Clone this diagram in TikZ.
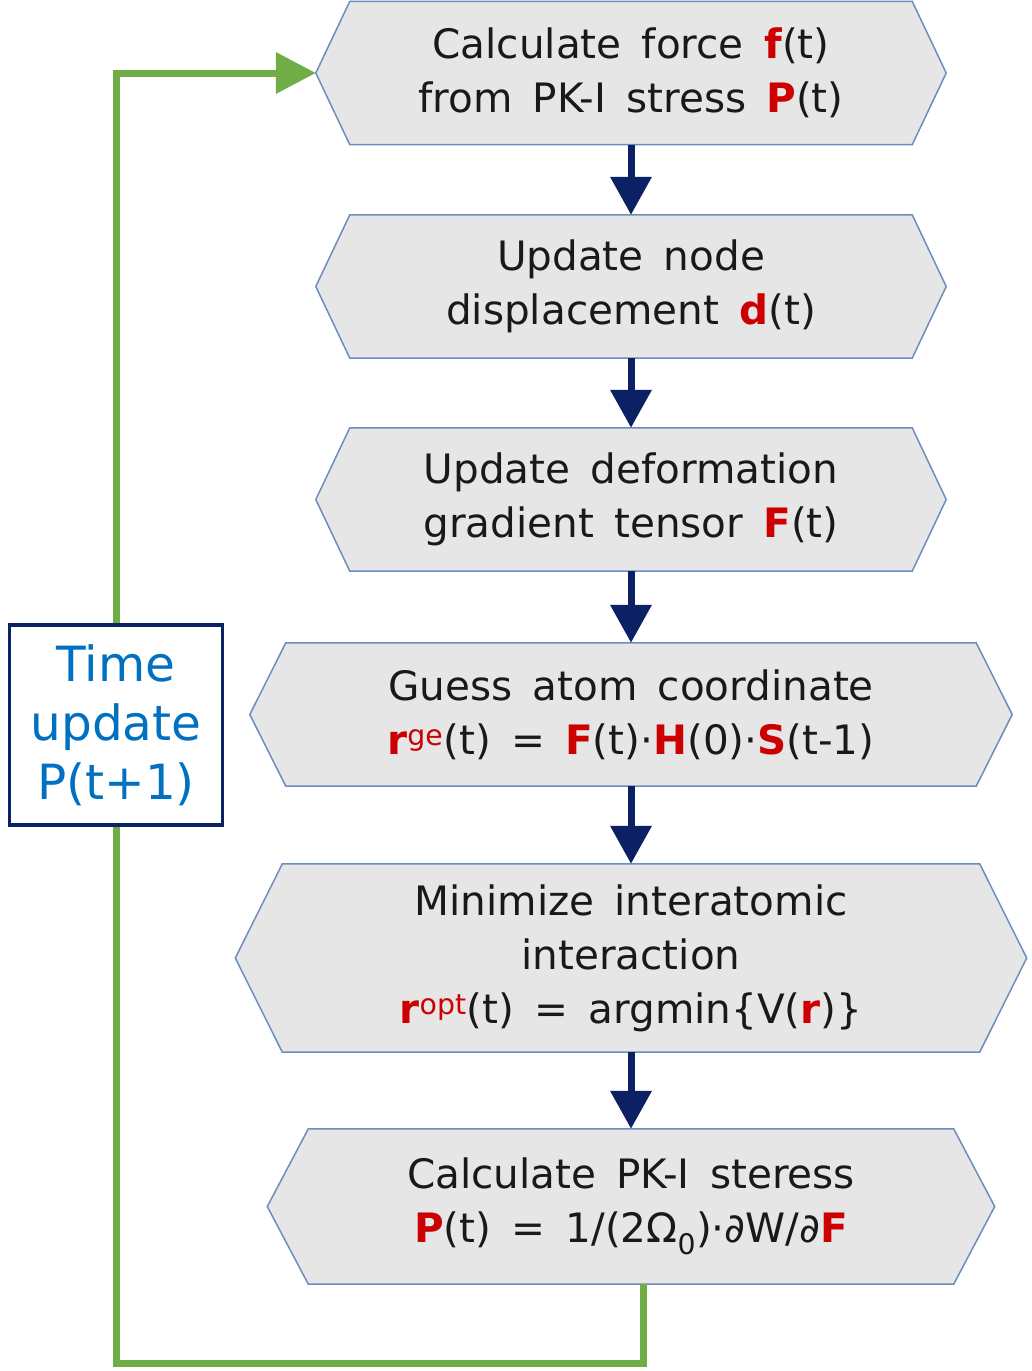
\documentclass[tikz,border=0pt]{standalone}
\usepackage{fontspec}
\setmainfont{DejaVu Sans}
\usetikzlibrary{arrows.meta,backgrounds}
\definecolor{boxfill}{HTML}{E7E6E6}
\definecolor{boxline}{HTML}{6C8EBF}
\definecolor{flownavy}{HTML}{0B2163}
\definecolor{loopgreen}{HTML}{70AD47}
\definecolor{timeblue}{HTML}{0070C0}
\definecolor{keyred}{HTML}{CC0000}
\newcommand{\vb}[1]{\textcolor{keyred}{\textbf{#1}}}
\newcommand{\flowfont}{\fontsize{40.5}{54}\selectfont\spaceskip=0.5em\relax}
\tikzset{
  flow box/.style={minimum height=143pt,inner sep=0pt,align=center,text=black!90,font=\flowfont},
  flow hex/.style={fill=boxfill,draw=boxline,line width=1.5pt},
  flow arrow/.style={flownavy,line width=7pt,-{Triangle[length=38pt,width=40pt]}},
  loop line/.style={loopgreen,line width=7pt},
  time box/.style={draw=flownavy,line width=3.5pt,fill=white,minimum width=213pt,minimum height=200pt,
    inner sep=0pt,align=center,text=timeblue,font=\fontsize{48.5}{59}\selectfont}
}

\begin{document}
\begin{tikzpicture}[x=1pt,y=-1pt]
  \useasboundingbox (0,0) rectangle (1032,1371);
  \node[flow box,minimum width=562pt] (force) at (631,73) {Calculate force \vb{f}(t)\\from PK-I stress \vb{P}(t)};
  \node[flow box,minimum width=562pt] (disp) at (631,286.5) {Update node\\displacement \vb{d}(t)};
  \node[flow box,minimum width=562pt] (grad) at (631,499.5) {Update deformation\\gradient tensor \vb{F}(t)};
  \node[flow box,minimum width=690pt] (guess) at (631,714.5)
    {Guess atom coordinate\\\vb{r}\textcolor{keyred}{\textsuperscript{ge}}(t) = \vb{F}(t)·\vb{H}(0)·\vb{S}(t-1)};
  \node[flow box,minimum width=697pt,minimum height=188pt] (mini) at (631,958)
    {Minimize interatomic\\interaction\\\vb{r}\textcolor{keyred}{\textsuperscript{opt}}(t) = argmin\{V(\vb{r})\}};
  \node[flow box,minimum width=645pt,minimum height=155pt] (stress) at (631,1206.5)
    {Calculate PK-I steress\\\vb{P}(t) = 1/(2Ω\textsubscript{0})·∂W/∂\vb{F}};
  \begin{scope}[on background layer]
    \foreach \n/\c in {force/34,disp/34,grad/34,guess/36,mini/47,stress/41}
      \draw[flow hex] (\n.north west) -- (\n.north east) -- ([xshift=\c pt]\n.east)
        -- (\n.south east) -- (\n.south west) -- ([xshift=-\c pt]\n.west) -- cycle;
  \end{scope}
  \foreach \a/\b in {force/disp,disp/grad,grad/guess,guess/mini,mini/stress}
    \draw[flow arrow] (\a.south) -- (\b.north);
  \node[time box] (time) at (116,725) {Time\\update\\P(t+1)};
  \coordinate (force tip) at ([xshift=-34pt]force.west);
  \draw[loop line] ([xshift=12pt]stress.south) -- ++(0,79) -| (time.south);
  \draw[loop line,-{Triangle[length=40pt,width=40pt]}] (time.north) |- (force tip);
\end{tikzpicture}
\end{document}
